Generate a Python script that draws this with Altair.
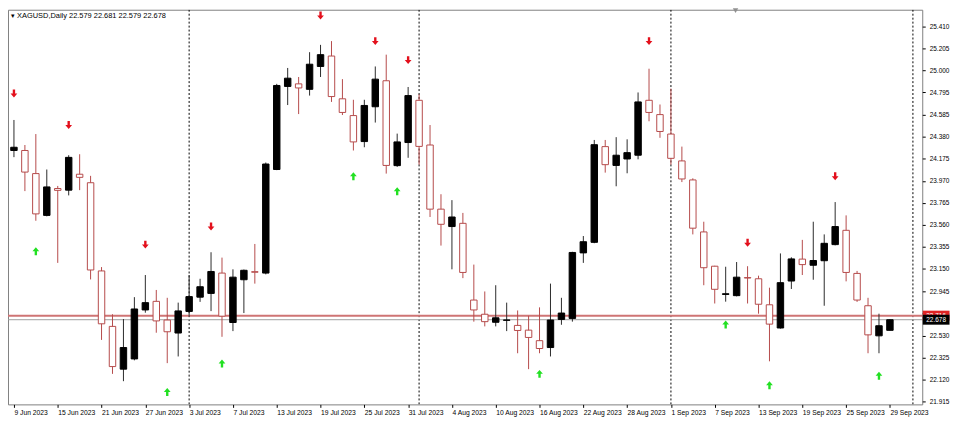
import altair as alt
import pandas as pd

# ---------------- data ----------------
symbol = "XAGUSD,Daily"
tick_labels = ["9 Jun 2023", "15 Jun 2023", "21 Jun 2023", "27 Jun 2023", "3 Jul 2023",
               "7 Jul 2023", "13 Jul 2023", "19 Jul 2023", "25 Jul 2023", "31 Jul 2023",
               "4 Aug 2023", "10 Aug 2023", "16 Aug 2023", "22 Aug 2023", "28 Aug 2023",
               "1 Sep 2023", "7 Sep 2023", "13 Sep 2023", "19 Sep 2023", "25 Sep 2023",
               "29 Sep 2023"]
price_ticks = [25.410, 25.205, 25.000, 24.795, 24.585, 24.380, 24.175, 23.970, 23.765,
               23.560, 23.355, 23.150, 22.945, 22.735, 22.530, 22.325, 22.120, 21.915]

opens = [24.253, 24.253, 24.038, 23.649, 23.899, 23.884, 24.032, 23.953, 23.132, 22.616,
         22.218, 22.313, 22.769, 22.849, 22.675, 22.554, 22.755, 22.888, 22.923, 23.112,
         22.652, 23.050, 23.125, 23.112, 24.076, 24.849, 24.873, 24.822, 25.035, 25.132,
         24.734, 24.578, 24.336, 24.660, 24.902, 24.112, 24.327, 24.720, 24.304, 23.707,
         23.545, 23.575, 22.861, 22.729, 22.654, 22.672, 22.625, 22.581, 22.483, 22.419,
         22.681, 22.690, 23.300, 23.398, 24.289, 24.114, 24.174, 24.209, 24.720, 24.587,
         24.406, 24.156, 23.979, 23.495, 23.176, 22.913, 22.902, 23.070, 23.059, 22.817,
         22.601, 23.038, 23.242, 23.185, 23.227, 23.377, 23.510, 23.109, 22.808, 22.528,
         22.579]
highs = [24.537, 24.304, 24.406, 24.076, 23.923, 24.209, 24.218, 24.017, 23.168, 22.729,
         22.684, 22.888, 23.094, 22.955, 22.882, 22.837, 23.094, 23.059, 23.306, 23.256,
         23.147, 23.145, 23.383, 24.141, 24.873, 25.021, 24.937, 25.168, 25.236, 25.271,
         24.917, 24.725, 24.725, 25.035, 25.145, 24.410, 24.844, 24.776, 24.490, 23.846,
         23.791, 23.672, 23.191, 22.941, 22.999, 22.837, 22.764, 22.714, 22.793, 23.014,
         22.882, 23.310, 23.457, 24.351, 24.351, 24.377, 24.357, 24.793, 25.014, 24.681,
         24.829, 24.289, 23.994, 23.590, 23.180, 23.171, 23.215, 23.176, 23.088, 22.976,
         23.295, 23.259, 23.421, 23.590, 23.472, 23.773, 23.649, 23.132, 22.882, 22.734,
         22.681]
lows = [24.191, 23.875, 23.599, 23.640, 23.207, 23.835, 23.884, 23.053, 22.490, 22.174,
        22.106, 22.300, 22.743, 22.557, 22.274, 22.336, 22.705, 22.844, 22.758, 22.519,
        22.572, 22.740, 23.014, 23.100, 24.070, 24.676, 24.592, 24.764, 24.937, 24.705,
        24.583, 24.253, 24.283, 24.513, 24.038, 24.100, 24.185, 24.121, 23.634, 23.368,
        23.147, 23.065, 22.660, 22.616, 22.616, 22.572, 22.366, 22.218, 22.366, 22.336,
        22.631, 22.660, 23.207, 23.390, 24.047, 23.920, 24.041, 24.171, 24.525, 24.371,
        24.121, 23.959, 23.472, 22.999, 22.829, 22.846, 22.895, 22.829, 22.734, 22.291,
        22.595, 22.964, 23.094, 23.050, 22.808, 23.370, 23.035, 22.844, 22.366, 22.366,
        22.579]
closes = [24.283, 24.052, 23.663, 23.914, 23.882, 24.189, 24.003, 23.141, 22.640, 22.242,
          22.419, 22.778, 22.837, 22.667, 22.566, 22.760, 22.893, 22.985, 23.127, 22.711,
          23.074, 23.138, 23.120, 24.127, 24.858, 24.926, 24.835, 25.056, 25.145, 24.755,
          24.607, 24.333, 24.672, 24.917, 24.114, 24.333, 24.764, 24.291, 23.707, 23.566,
          23.634, 23.118, 22.769, 22.660, 22.696, 22.676, 22.578, 22.513, 22.410, 22.675,
          22.740, 23.304, 23.404, 24.307, 24.121, 24.209, 24.233, 24.705, 24.607, 24.430,
          24.180, 23.988, 23.530, 23.162, 22.961, 22.920, 23.074, 23.066, 22.822, 22.637,
          23.023, 23.244, 23.191, 23.229, 23.389, 23.545, 23.118, 22.861, 22.537, 22.622,
          22.678]

sell_idx = [0, 5, 12, 18, 28, 33, 36, 58, 67, 75]
sell_price = [24.784, 24.490, 23.377, 23.545, 25.510, 25.271, 25.094, 25.271, 23.395, 24.014]
buy_idx = [2, 14, 19, 31, 35, 48, 65, 69, 79]
buy_price = [23.315, 22.006, 22.271, 24.014, 23.873, 22.174, 22.634, 22.068, 22.156]

separators = [16, 37, 60, 82.1]      # month starts (3 Jul, 1 Aug, 1 Sep) and chart end line
red_level = 22.716
bid_level = closes[-1]
shift_marker = [65.9]

# ---------------- styling ----------------
W, H = 922, 398
BEAR = "#b54a4a"
BULL_WICK = "#2a2a2a"
FONT = "Liberation Sans"

n = len(opens)
df = pd.DataFrame({"i": list(range(n)), "open": opens, "high": highs,
                   "low": lows, "close": closes})
df["dir"] = ["up" if c >= o else "down" for o, c in zip(opens, closes)]

xs = alt.Scale(domain=[-0.09, 82.5], nice=False, zero=False)
ys = alt.Scale(domain=[21.89, 25.563], nice=False, zero=False)

label_expr = "[" + ",".join(f"'{t}'" for t in tick_labels) + "][round(datum.value/4)]"
x_axis = alt.Axis(values=list(range(0, 4 * len(tick_labels), 4)), labelExpr=label_expr,
                  labelAlign="left", labelPadding=2, tickSize=3, domain=False, grid=False,
                  title=None, labelFont=FONT, labelFontSize=6.8, labelColor="#000",
                  tickColor="#000", labelOverlap=False, labelFlush=False, labelBound=False)
y_axis = alt.Axis(orient="right", values=price_ticks, format=".3f", labelAlign="left",
                  labelPadding=4, tickSize=3, domain=False, grid=False, title=None,
                  labelFont=FONT, labelFontSize=6.5, labelColor="#000", tickColor="#000",
                  labelOverlap=False, labelFlush=False, labelBound=False)


def X(field):
    return alt.X(field, scale=xs, axis=x_axis)


def Y(field):
    return alt.Y(field, scale=ys, axis=y_axis)


dir_scale = dict(domain=["up", "down"])

wicks = alt.Chart(df).mark_rule(strokeWidth=1, clip=True).encode(
    x=X("i:Q"), y=Y("low:Q"), y2="high:Q",
    color=alt.Color("dir:N", scale=alt.Scale(range=[BULL_WICK, BEAR], **dir_scale), legend=None),
)

bodies = alt.Chart(df).mark_bar(size=6.5, strokeWidth=1, clip=True).encode(
    x=X("i:Q"), y=Y("open:Q"), y2="close:Q",
    fill=alt.Fill("dir:N", scale=alt.Scale(range=["#000000", "#ffffff"], **dir_scale), legend=None),
    stroke=alt.Stroke("dir:N", scale=alt.Scale(range=["#000000", BEAR], **dir_scale), legend=None),
)

sep = alt.Chart(pd.DataFrame({"i": separators})).mark_rule(
    strokeDash=[2, 2], color="#000", strokeWidth=1, clip=True
).encode(x=X("i:Q"))

red_line = alt.Chart(pd.DataFrame({"p": [red_level]})).mark_rule(
    color="#cf7474", strokeWidth=2).encode(y=Y("p:Q"))
bid_line = alt.Chart(pd.DataFrame({"p": [bid_level]})).mark_rule(
    color="#a0a0a0", strokeWidth=1).encode(y=Y("p:Q"))

DOWN = "M-0.3,-1L0.3,-1L0.3,0L0.85,0L0,1L-0.85,0L-0.3,0Z"
UP = "M-0.3,1L0.3,1L0.3,0L0.85,0L0,-1L-0.85,0L-0.3,0Z"
sells = alt.Chart(pd.DataFrame({"i": sell_idx, "p": sell_price})).mark_point(
    shape=DOWN, size=64, filled=True, color="#e3101c", opacity=1, strokeWidth=0
).encode(x=X("i:Q"), y=Y("p:Q"))
buys = alt.Chart(pd.DataFrame({"i": buy_idx, "p": buy_price})).mark_point(
    shape=UP, size=64, filled=True, color="#22e022", opacity=1, strokeWidth=0
).encode(x=X("i:Q"), y=Y("p:Q"))

# price tags on the right axis: 27 x 10 px boxes (path scaled by sqrt(size)/2 = 10)
TAG = "M-1.35,-0.5L1.35,-0.5L1.35,0.5L-1.35,0.5Z"
tags = []
for level, col in [(red_level, "#e02424"), (bid_level, "#000000")]:
    tdf = pd.DataFrame({"p": [level], "t": [f"{level:.3f}"]})
    tags.append(alt.Chart(tdf).mark_point(shape=TAG, size=400, filled=True, color=col,
                                          opacity=1, strokeWidth=0)
                .encode(x=alt.value(W + 14), y=Y("p:Q")))
    tags.append(alt.Chart(tdf).mark_text(color="white", font=FONT, fontSize=6.5,
                                         align="center", baseline="middle")
                .encode(x=alt.value(W + 14), y=Y("p:Q"), text="t:N"))

title_text = f"{symbol}  {opens[-1]:.3f} {highs[-1]:.3f} {lows[-1]:.3f} {closes[-1]:.3f}"
title = alt.Chart(pd.DataFrame({"t": ["\u25BE " + title_text]})).mark_text(
    align="left", baseline="middle", font=FONT, fontSize=7.5, color="#000"
).encode(x=alt.value(3), y=alt.value(6), text="t:N")

marker = alt.Chart(pd.DataFrame({"i": shift_marker})).mark_point(
    shape="triangle-down", size=30, filled=True, color="#909090", opacity=1
).encode(x=X("i:Q"), y=alt.value(1))

chart = alt.layer(sep, red_line, bid_line, wicks, bodies, sells, buys, *tags, title, marker).properties(
    width=W, height=H,
    padding={"left": 0, "top": 0, "right": 30, "bottom": 14},
    autosize=alt.AutoSizeParams(type="none"),
    background="white",
).configure_view(stroke="#808080", strokeWidth=1).configure_axis(labelOverlap=False)

chart.save("out.html", embed_options={"renderer": "svg", "actions": False})
